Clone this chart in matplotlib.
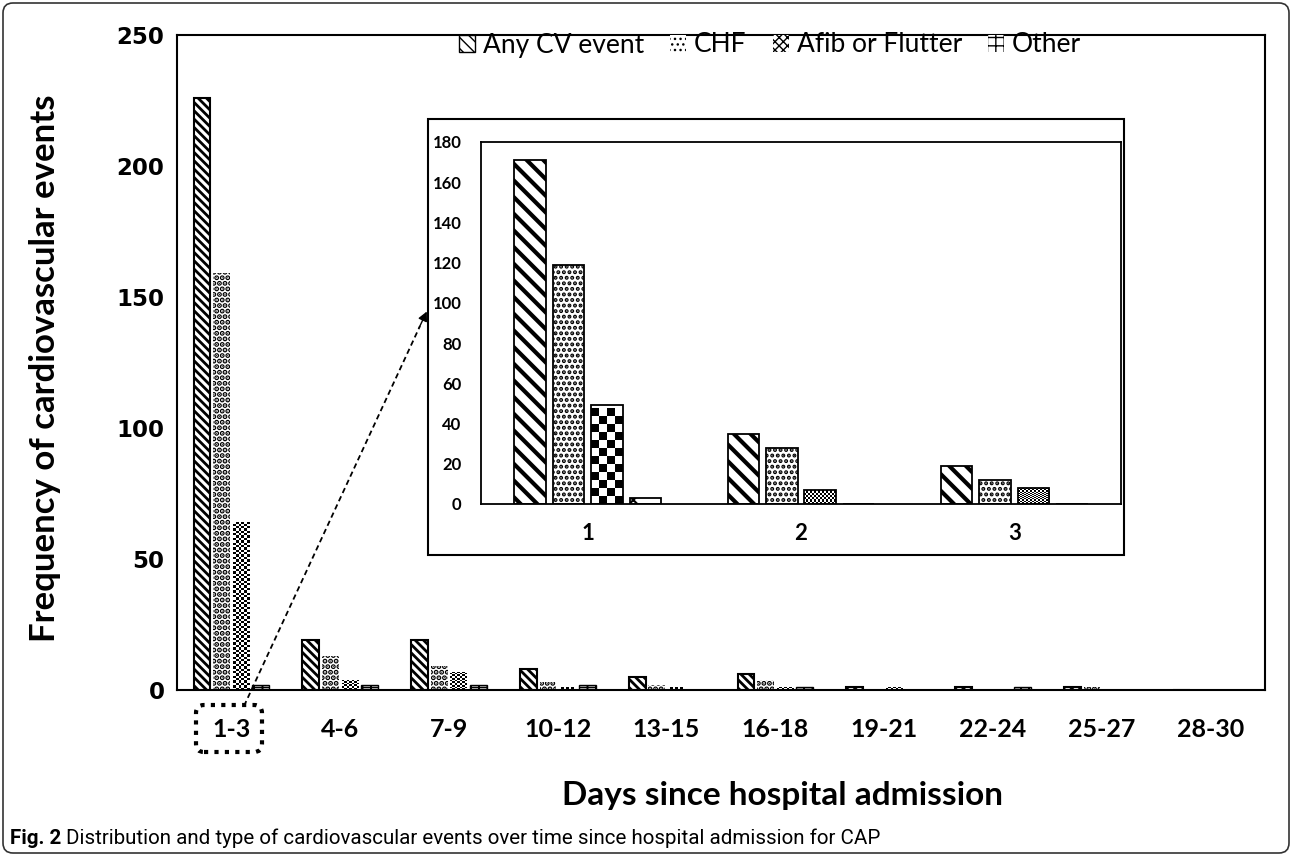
import numpy as np
import matplotlib
matplotlib.use("Agg")
import matplotlib.pyplot as plt
from matplotlib.patches import FancyBboxPatch, Rectangle, Patch, FancyArrowPatch
from matplotlib.lines import Line2D
from matplotlib.transforms import IdentityTransform

# ---- data ----
day_groups = ["1-3", "4-6", "7-9", "10-12", "13-15", "16-18", "19-21", "22-24", "25-27", "28-30"]
any_cv = [226, 19, 19, 8, 5, 6, 1, 1, 1, 0]
chf = [159, 13, 9, 3, 2, 4, 0, 0, 1, 0]
afib = [64, 4, 7, 1, 1, 1, 1, 0, 0, 0]
other = [2, 2, 2, 2, 0, 1, 0, 1, 0, 0]

first_days = ["1", "2", "3"]
any_cv_d = [171, 35, 19]
chf_d = [119, 28, 12]
afib_d = [49, 7, 8]
other_d = [3, 0, 0]

series_names = ["Any CV event", "CHF", "Afib or Flutter", "Other"]

W, H = 1292, 856
fig = plt.figure(figsize=(W / 100, H / 100), dpi=100)


def fx(px):
    return px / W


def fy(py):
    return 1 - py / H


def hatched_bars(ax, x, vals, width, hatch, hlw, edge_lw):
    with plt.rc_context({"hatch.linewidth": hlw}):
        bars = ax.bar(x, vals, width, facecolor="white", edgecolor="black",
                      linewidth=edge_lw, hatch=hatch, zorder=2)
    for b in bars:
        if hasattr(b, "set_hatch_linewidth"):
            b.set_hatch_linewidth(hlw)
    return bars


def checker_bars(ax, x, vals, width, cell_px, edge_lw):
    # checkerboard fill: a small 0/1 texture clipped to each bar
    bars = ax.bar(x, vals, width, facecolor="white", edgecolor="black",
                  linewidth=edge_lw, zorder=3)
    fig.canvas.draw()
    for b in bars:
        h = b.get_height()
        if h <= 0:
            continue
        x0, w = b.get_x(), b.get_width()
        p0 = ax.transData.transform((x0, 0))
        p1 = ax.transData.transform((x0 + w, h))
        nx = max(1, int(round((p1[0] - p0[0]) / cell_px)))
        ny = max(1, int(round((p1[1] - p0[1]) / cell_px)))
        board = np.indices((ny, nx)).sum(axis=0) % 2
        im = ax.imshow(board, cmap="gray_r", extent=(x0, x0 + w, 0, ny * cell_px * h / (p1[1] - p0[1])),
                       origin="lower", interpolation="nearest", aspect="auto", zorder=2.5)
        im.set_clip_path(b)
        b.set_facecolor("none")
    return bars


# ---- main axes ----
ax = fig.add_axes([fx(177), fy(690), fx(1265 - 177), (690 - 35) / H])
x = np.arange(len(day_groups))
bw, step = 0.155, 0.18

hatched_bars(ax, x - 1.5 * step, any_cv, bw, "\\\\\\\\", 2.0, 1.5)
hatched_bars(ax, x - 0.5 * step, chf, bw, "...", 2.6, 0)
checker_bars(ax, x + 0.5 * step, afib, bw, 2.5, 0)
hatched_bars(ax, x + 1.5 * step, other, bw, "++", 1.2, 1.0)

ax.set_xlim(-0.5, len(day_groups) - 0.5)
ax.set_ylim(0, 250)
ax.set_yticks([0, 50, 100, 150, 200, 250])
ax.set_xticks(x)
ax.set_xticklabels(day_groups, fontsize=18, fontweight="bold", family="Lato")
for lab in ax.get_yticklabels():
    lab.set_fontsize(16.5)
    lab.set_fontweight("bold")
ax.tick_params(axis="both", length=0)
ax.tick_params(axis="y", pad=9)
ax.tick_params(axis="x", pad=20)
for s in ax.spines.values():
    s.set_linewidth(1.5)

# ---- inset frame + axes ----
fig.add_artist(Rectangle((fx(428), fy(555)), fx(1124 - 428), (555 - 119) / H,
                         transform=fig.transFigure, facecolor="white",
                         edgecolor="black", linewidth=1.5, zorder=3))
ins = fig.add_axes([fx(481), fy(504), fx(1121 - 481), (504 - 142) / H], zorder=4)
xd = np.arange(len(first_days))
hatched_bars(ins, xd - 1.5 * step, any_cv_d, bw * 0.95, "\\\\", 3.0, 1.3)
hatched_bars(ins, xd - 0.5 * step, chf_d, bw * 0.95, "...", 2.0, 1.3)
checker_bars(ins, xd + 0.5 * step, afib_d, bw * 0.95, 8, 1.3)
hatched_bars(ins, xd + 1.5 * step, other_d, bw * 0.95, "x", 1.5, 1.3)
ins.set_xlim(-0.5, len(first_days) - 0.5)
ins.set_ylim(0, 180)
ins.set_yticks(np.arange(0, 181, 20))
ins.set_xticks(xd)
ins.set_xticklabels(first_days, fontsize=16, fontweight="bold", family="Lato")
for lab in ins.get_yticklabels():
    lab.set_fontsize(12)
    lab.set_fontweight("bold")
    lab.set_family("Lato")
ins.tick_params(axis="both", length=0)
ins.tick_params(axis="y", pad=14)
ins.tick_params(axis="x", pad=14)
for s in ins.spines.values():
    s.set_linewidth(1.3)

# ---- legend ----
handles = [
    Patch(facecolor="white", edgecolor="black", hatch="\\\\\\", linewidth=1),
    Patch(facecolor="white", edgecolor="black", hatch="...", linewidth=0),
    Patch(facecolor="white", edgecolor="black", hatch="xxxx", linewidth=0),
    Patch(facecolor="white", edgecolor="black", hatch="++", linewidth=0),
]
fig.legend(handles, series_names, loc="center", bbox_to_anchor=(fx(770), fy(45)),
           ncol=4, frameon=False, prop={"family": "Lato", "size": 19},
           handlelength=0.6, handleheight=0.6, handletextpad=0.3, columnspacing=1.0)

# ---- axis titles ----
fig.text(fx(45), fy(368), "Frequency of cardiovascular events", rotation=90,
         ha="center", va="center", fontsize=25, fontweight="bold", family="Lato")
fig.text(fx(782), fy(795), "Days since hospital admission",
         ha="center", va="center", fontsize=24, fontweight="bold", family="Lato")

# ---- dotted box around 1-3 and dashed arrow ----
fig.add_artist(FancyBboxPatch((196, H - 752), 66, 47, boxstyle="round,pad=0,rounding_size=8",
                              transform=IdentityTransform(), facecolor="none",
                              edgecolor="black", linewidth=3, linestyle=(0, (1, 1.5)), zorder=5))
fig.add_artist(Line2D([fx(244), fx(420)], [fy(706), fy(326)], transform=fig.transFigure,
                      color="black", linewidth=1.3, linestyle=(0, (3, 2)), zorder=5))
fig.add_artist(FancyArrowPatch((fx(418), fy(330)), (fx(428), fy(309)),
                               transform=fig.transFigure, arrowstyle="-|>",
                               mutation_scale=14, color="black", linewidth=1, zorder=6))

# ---- caption + outer frame ----
t1 = fig.text(fx(10), fy(838), "Fig. 2", ha="left", va="center", fontsize=14.8,
              fontweight="bold", family="Roboto")
fig.canvas.draw()
bb = t1.get_window_extent()
fig.text((bb.x1 + 5) / W, fy(838),
         "Distribution and type of cardiovascular events over time since hospital admission for CAP",
         ha="left", va="center", fontsize=14.8, family="Roboto")
fig.add_artist(FancyBboxPatch((3, 3), W - 6, H - 6, boxstyle="round,pad=0,rounding_size=10",
                              transform=IdentityTransform(), facecolor="none",
                              edgecolor="#333333", linewidth=1.2, zorder=0))

fig.savefig("out.png", dpi=100)
